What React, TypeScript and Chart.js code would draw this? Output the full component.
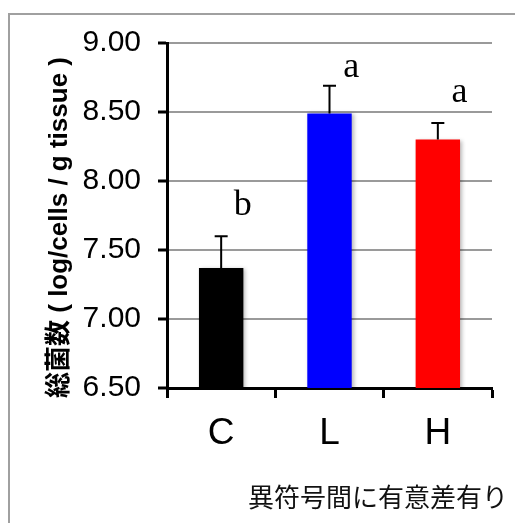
import React, { useEffect, useRef } from "react";
import { Chart, registerables } from "chart.js";

Chart.register(...registerables);

const categories = ["C", "L", "H"];
const means = [7.37, 8.49, 8.3];
const errors = [0.23, 0.2, 0.12];
const letters = ["b", "a", "a"];
const letterLevels = [7.82, 8.82, 8.64];
const barColors = ["#000000", "#0000ff", "#ff0000"];
const yTicks = [6.5, 7.0, 7.5, 8.0, 8.5, 9.0];
const yTitle = "総菌数 ( log/cells / g tissue )";
const footnote = "異符号間に有意差有り";

const SANS = '"Liberation Sans", Arial, "Noto Sans CJK JP", sans-serif';
const SERIF = '"Liberation Serif", "Times New Roman", serif';

const decorPlugin = {
  id: "decor",
  beforeDraw(chart: any) {
    const ctx = chart.ctx;
    ctx.save();
    ctx.strokeStyle = "#a0a0a0";
    ctx.lineWidth = 2;
    ctx.strokeRect(9, 14, 700, 700);
    ctx.restore();
  },
  beforeDatasetsDraw(chart: any) {
    const ctx = chart.ctx;
    ctx.save();
    ctx.shadowColor = "rgba(0,0,0,0.28)";
    ctx.shadowBlur = 4;
    ctx.shadowOffsetX = 2;
    ctx.shadowOffsetY = 1;
  },
  afterDatasetsDraw(chart: any) {
    const ctx = chart.ctx;
    ctx.restore();
    const x = chart.scales.x;
    const y = chart.scales.y;
    ctx.save();
    ctx.strokeStyle = "#000";
    ctx.lineWidth = 2;
    means.forEach((m, i) => {
      const px = x.getPixelForValue(i);
      const top = y.getPixelForValue(m);
      const et = y.getPixelForValue(m + errors[i]);
      ctx.beginPath();
      ctx.moveTo(px, top);
      ctx.lineTo(px, et);
      ctx.moveTo(px - 6.5, et);
      ctx.lineTo(px + 6.5, et);
      ctx.stroke();
    });
    ctx.fillStyle = "#000";
    ctx.font = `36px ${SERIF}`;
    ctx.textAlign = "center";
    ctx.textBaseline = "middle";
    letters.forEach((l, i) => {
      const px = x.getPixelForValue(i + 0.2);
      const py = y.getPixelForValue(letterLevels[i]);
      ctx.fillText(l, px, py);
    });
    ctx.restore();
  },
  afterDraw(chart: any) {
    const ctx = chart.ctx;
    const y = chart.scales.y;
    ctx.save();
    ctx.fillStyle = "#000";
    ctx.font = `bold 26px ${SANS}`;
    ctx.textAlign = "center";
    ctx.textBaseline = "middle";
    ctx.translate(60, (y.top + y.bottom) / 2 + 12);
    ctx.rotate(-Math.PI / 2);
    ctx.fillText(yTitle, 0, 0);
    ctx.restore();

    ctx.save();
    ctx.fillStyle = "#111";
    ctx.font = `26px "Noto Sans CJK JP", ${SANS}`;
    ctx.textAlign = "right";
    ctx.textBaseline = "middle";
    ctx.fillText(footnote, 508, 497);
    ctx.restore();
  },
};

export default function App() {
  const ref = useRef<HTMLCanvasElement | null>(null);
  useEffect(() => {
    if (!ref.current) return;
    const chart = new Chart(ref.current, {
      type: "bar",
      data: {
        labels: categories,
        datasets: [
          {
            data: means,
            backgroundColor: barColors,
            borderWidth: 0,
            categoryPercentage: 1,
            barPercentage: 0.41,
          },
        ],
      },
      options: {
        animation: false,
        responsive: false,
        maintainAspectRatio: false,
        layout: { padding: { top: 43, right: 23, left: 0, bottom: 0 } },
        plugins: {
          legend: { display: false },
          tooltip: { enabled: false },
          title: { display: false },
        },
        scales: {
          y: {
            min: 6.5,
            max: 9,
            afterFit(scale: any) {
              scale.width = 167;
            },
            afterBuildTicks(scale: any) {
              scale.ticks = yTicks.map((v) => ({ value: v }));
            },
            ticks: {
              callback: (v: any) => Number(v).toFixed(2),
              font: { family: SANS, size: 30 },
              color: "#000",
              padding: 17,
            },
            grid: {
              color: "#9a9a9a",
              lineWidth: 2,
              tickLength: 9,
              tickColor: "#000",
              tickWidth: 3,
            },
            border: { color: "#000", width: 3 },
          },
          x: {
            afterFit(scale: any) {
              scale.height = 135;
            },
            ticks: {
              font: { family: SANS, size: 37 },
              color: "#000",
              padding: 14,
            },
            grid: {
              drawOnChartArea: false,
              tickLength: 10,
              tickColor: "#000",
              tickWidth: 3,
            },
            border: { color: "#000", width: 3 },
          },
        },
      },
      plugins: [decorPlugin],
    });
    return () => chart.destroy();
  }, []);
  return (
    <div style={{ position: "fixed", left: 0, top: 0, width: 515, height: 523, background: "#fff" }}>
      <canvas ref={ref} width={515} height={523} style={{ width: 515, height: 523 }} />
    </div>
  );
}
